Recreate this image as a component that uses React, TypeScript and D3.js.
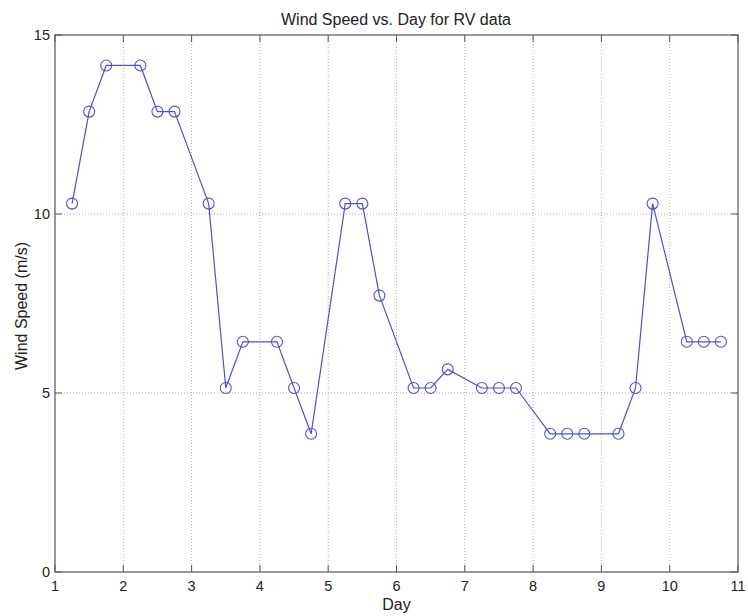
import React from "react";
import * as d3 from "d3";

const days = [1.25, 1.5, 1.75, 2.25, 2.5, 2.75, 3.25, 3.5, 3.75, 4.25, 4.5, 4.75, 5.25, 5.5, 5.75, 6.25, 6.5, 6.75, 7.25, 7.5, 7.75, 8.25, 8.5, 8.75, 9.25, 9.5, 9.75, 10.25, 10.5, 10.75];
const windSpeed = [10.29, 12.86, 14.15, 14.15, 12.86, 12.86, 10.29, 5.14, 6.43, 6.43, 5.14, 3.86, 10.29, 10.29, 7.72, 5.14, 5.14, 5.66, 5.14, 5.14, 5.14, 3.86, 3.86, 3.86, 3.86, 5.14, 10.29, 6.43, 6.43, 6.43];
const xTicks = [1, 2, 3, 4, 5, 6, 7, 8, 9, 10, 11];
const yTicks = [0, 5, 10, 15];

export default function App() {
  const W = 748, H = 616;
  const left = 55, right = 738, top = 35, bottom = 572;
  const x = d3.scaleLinear().domain([1, 11]).range([left, right]);
  const y = d3.scaleLinear().domain([0, 15]).range([bottom, top]);
  const pts: [number, number][] = days.map((d, i) => [d, windSpeed[i]]);
  const line = d3.line<[number, number]>().x(d => x(d[0])).y(d => y(d[1]))(pts) || "";
  const font = "'Liberation Sans', Arial, sans-serif";
  const lineColor = "#5050cc";
  const axisColor = "#555";
  return (
    <svg width={W} height={H} style={{ position: "absolute", left: 0, top: 0, background: "#fff" }}>
      <rect x={0} y={0} width={W} height={H} fill="#fff" />
      {xTicks.slice(1, -1).map(t => (
        <line key={"gx" + t} x1={x(t)} x2={x(t)} y1={top} y2={bottom} stroke="#aaa" strokeWidth={1} strokeDasharray="1,2" />
      ))}
      {yTicks.slice(1, -1).map(t => (
        <line key={"gy" + t} x1={left} x2={right} y1={y(t)} y2={y(t)} stroke="#aaa" strokeWidth={1} strokeDasharray="1,2" />
      ))}
      {xTicks.map(t => (
        <g key={"tx" + t}>
          <line x1={x(t)} x2={x(t)} y1={bottom} y2={bottom - 7} stroke={axisColor} />
          <line x1={x(t)} x2={x(t)} y1={top} y2={top + 7} stroke={axisColor} />
          <text x={x(t)} y={bottom + 19} textAnchor="middle" fontFamily={font} fontSize={14.5} fill="#222">{t}</text>
        </g>
      ))}
      {yTicks.map(t => (
        <g key={"ty" + t}>
          <line x1={left} x2={left + 7} y1={y(t)} y2={y(t)} stroke={axisColor} />
          <line x1={right} x2={right - 7} y1={y(t)} y2={y(t)} stroke={axisColor} />
          <text x={left - 5} y={y(t) + 5} textAnchor="end" fontFamily={font} fontSize={14.5} fill="#222">{t}</text>
        </g>
      ))}
      <rect x={left} y={top} width={right - left} height={bottom - top} fill="none" stroke={axisColor} strokeWidth={1.2} />
      <path d={line} fill="none" stroke={lineColor} strokeWidth={1.2} />
      {pts.map((p, i) => (
        <circle key={"c" + i} cx={x(p[0])} cy={y(p[1])} r={5.5} fill="none" stroke={lineColor} strokeWidth={1.1} />
      ))}
      <text x={396} y={25} textAnchor="middle" fontFamily={font} fontSize={16} fill="#222">Wind Speed vs. Day for RV data</text>
      <text x={(left + right) / 2} y={610} textAnchor="middle" fontFamily={font} fontSize={16} fill="#222">Day</text>
      <text transform={`translate(27, 306) rotate(-90)`} textAnchor="middle" fontFamily={font} fontSize={16} fill="#222">Wind Speed (m/s)</text>
    </svg>
  );
}
